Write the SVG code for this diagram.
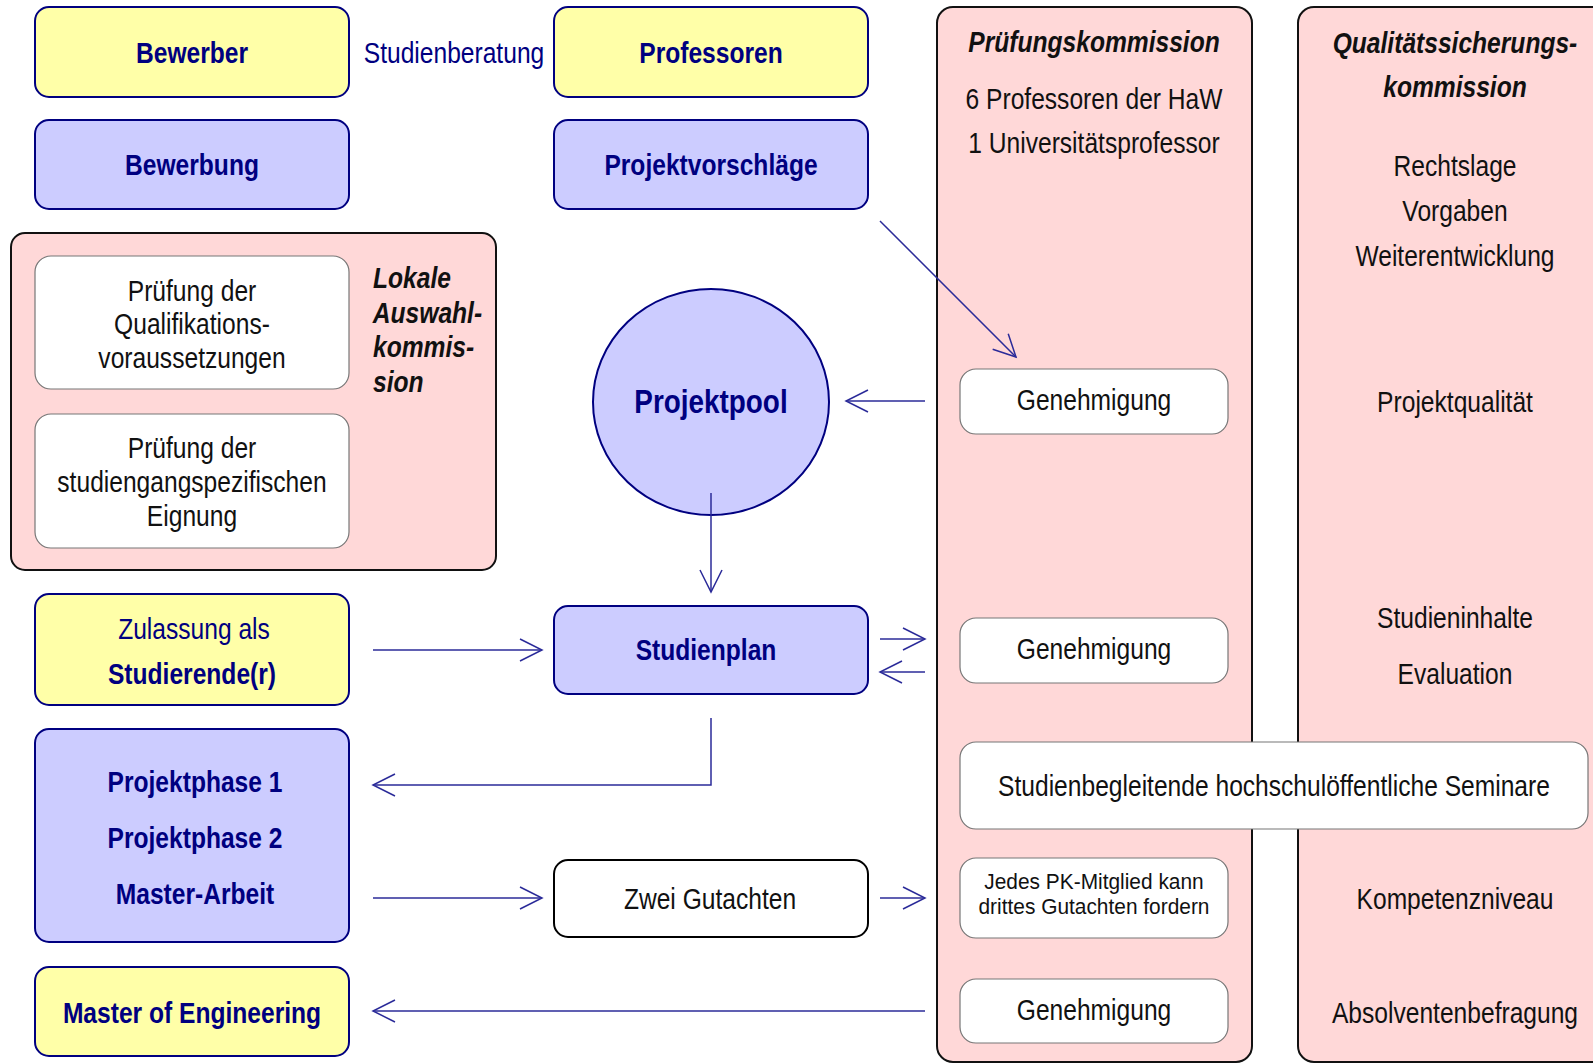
<svg xmlns="http://www.w3.org/2000/svg" width="1593" height="1064" viewBox="0 0 1593 1064">
<defs>
<marker id="ah" markerUnits="userSpaceOnUse" markerWidth="30" markerHeight="30" viewBox="0 0 30 30" refX="24" refY="15" orient="auto">
<path d="M2,4 L24,15 L2,26" fill="none" stroke="#2b2b99" stroke-width="1.5"/>
</marker>
</defs>
<style>
text{font-family:"Liberation Sans Narrow","Liberation Sans",Arial,sans-serif;text-anchor:middle;dominant-baseline:central;font-size:30px;transform-box:fill-box;transform-origin:center;transform:scaleX(0.82)}
text.st{text-anchor:start;transform-origin:left center}
text.sm{font-size:22px;transform:scaleX(0.95)}
text.big{font-size:34px}
.yel{fill:#FFFFA8;stroke:#000080;stroke-width:2}
.blu{fill:#CCCCFF;stroke:#000080;stroke-width:2}
.pnk{fill:#FFD8D8;stroke:#111;stroke-width:2}
.wht{fill:#fff;stroke:#777;stroke-width:1.2}
.wht2{fill:#fff;stroke:#000;stroke-width:2}
.nb{fill:#000080;font-weight:bold}
.n{fill:#000080}
.k{fill:#111}
.kbi{fill:#111;font-weight:bold;font-style:italic}
.con{fill:none;stroke:#2b2b99;stroke-width:1.5;marker-end:url(#ah)}
</style>
<g id="panel-pk">
<rect class="pnk" x="937" y="7" width="315" height="1055" rx="16"/>
<text class="kbi" x="1094" y="42">Prüfungskommission</text>
<text class="k" x="1094" y="99">6 Professoren der HaW</text>
<text class="k" x="1094" y="143">1 Universitätsprofessor</text>
</g>
<g id="panel-qsk">
<rect class="pnk" x="1298" y="7" width="310" height="1055" rx="16"/>
<text class="kbi" x="1455" y="43">Qualitätssicherungs-</text>
<text class="kbi" x="1455" y="87">kommission</text>
<text class="k" x="1455" y="166">Rechtslage</text>
<text class="k" x="1455" y="211">Vorgaben</text>
<text class="k" x="1455" y="256">Weiterentwicklung</text>
<text class="k" x="1455" y="402">Projektqualität</text>
<text class="k" x="1455" y="618">Studieninhalte</text>
<text class="k" x="1455" y="674">Evaluation</text>
<text class="k" x="1455" y="899">Kompetenzniveau</text>
<text class="k" x="1455" y="1013">Absolventenbefragung</text>
</g>
<g id="bewerber"><rect class="yel" x="35" y="7" width="314" height="90" rx="14"/><text class="nb" x="192" y="53">Bewerber</text></g>
<g id="studienberatung"><text class="n" x="454" y="53">Studienberatung</text></g>
<g id="professoren"><rect class="yel" x="554" y="7" width="314" height="90" rx="14"/><text class="nb" x="711" y="53">Professoren</text></g>
<g id="bewerbung"><rect class="blu" x="35" y="120" width="314" height="89" rx="14"/><text class="nb" x="192" y="165">Bewerbung</text></g>
<g id="projektvorschlaege"><rect class="blu" x="554" y="120" width="314" height="89" rx="14"/><text class="nb" x="711" y="165">Projektvorschläge</text></g>
<g id="auswahlkommission">
<rect class="pnk" x="11" y="233" width="485" height="337" rx="14"/>
<text class="kbi st" x="373" y="278">Lokale</text>
<text class="kbi st" x="373" y="313">Auswahl-</text>
<text class="kbi st" x="373" y="347">kommis-</text>
<text class="kbi st" x="373" y="382">sion</text>
</g>
<g id="pruefung-quali"><rect class="wht" x="35" y="256" width="314" height="133" rx="16"/>
<text class="k" x="192" y="291">Prüfung der</text><text class="k" x="192" y="324">Qualifikations-</text><text class="k" x="192" y="358">voraussetzungen</text></g>
<g id="pruefung-eignung"><rect class="wht" x="35" y="414" width="314" height="134" rx="16"/>
<text class="k" x="192" y="448">Prüfung der</text><text class="k" x="192" y="482">studiengangspezifischen</text><text class="k" x="192" y="516">Eignung</text></g>
<g id="projektpool"><ellipse cx="711" cy="402" rx="118" ry="113" fill="#CCCCFF" stroke="#000080" stroke-width="2"/><text class="nb big" x="711" y="402">Projektpool</text></g>
<g id="genehmigung1"><rect class="wht" x="960" y="369" width="268" height="65" rx="16"/><text class="k" x="1094" y="400">Genehmigung</text></g>
<g id="zulassung"><rect class="yel" x="35" y="594" width="314" height="111" rx="14"/><text class="n" x="194" y="629">Zulassung als</text><text class="nb" x="192" y="674">Studierende(r)</text></g>
<g id="studienplan"><rect class="blu" x="554" y="606" width="314" height="88" rx="14"/><text class="nb" x="706" y="650">Studienplan</text></g>
<g id="genehmigung2"><rect class="wht" x="960" y="618" width="268" height="65" rx="16"/><text class="k" x="1094" y="649">Genehmigung</text></g>
<g id="projektphasen"><rect class="blu" x="35" y="729" width="314" height="213" rx="14"/>
<text class="nb" x="195" y="782">Projektphase 1</text><text class="nb" x="195" y="838">Projektphase 2</text><text class="nb" x="195" y="894">Master-Arbeit</text></g>
<g id="seminare"><rect class="wht" x="960" y="742" width="628" height="87" rx="16"/><text class="k" x="1274" y="786">Studienbegleitende hochschulöffentliche Seminare</text></g>
<g id="zwei-gutachten"><rect class="wht2" x="554" y="860" width="314" height="77" rx="14"/><text class="k" x="710" y="899">Zwei Gutachten</text></g>
<g id="drittes-gutachten"><rect class="wht" x="960" y="858" width="268" height="80" rx="16"/><text class="k sm" x="1094" y="882">Jedes PK-Mitglied kann</text><text class="k sm" x="1094" y="907">drittes Gutachten fordern</text></g>
<g id="genehmigung3"><rect class="wht" x="960" y="979" width="268" height="64" rx="16"/><text class="k" x="1094" y="1010">Genehmigung</text></g>
<g id="master"><rect class="yel" x="35" y="967" width="314" height="89" rx="14"/><text class="nb" x="192" y="1013">Master of Engineering</text></g>
<g id="connectors">
<path class="con" d="M880,221 L1016,357"/>
<path class="con" d="M925,401 L846,401"/>
<path class="con" d="M711,493 L711,592"/>
<path class="con" d="M373,650 L542,650"/>
<path class="con" d="M880,639 L925,639"/>
<path class="con" d="M925,672 L880,672"/>
<path class="con" d="M711,718 L711,785 L373,785"/>
<path class="con" d="M373,898 L542,898"/>
<path class="con" d="M880,898 L925,898"/>
<path class="con" d="M925,1011 L373,1011"/>
</g>
</svg>
